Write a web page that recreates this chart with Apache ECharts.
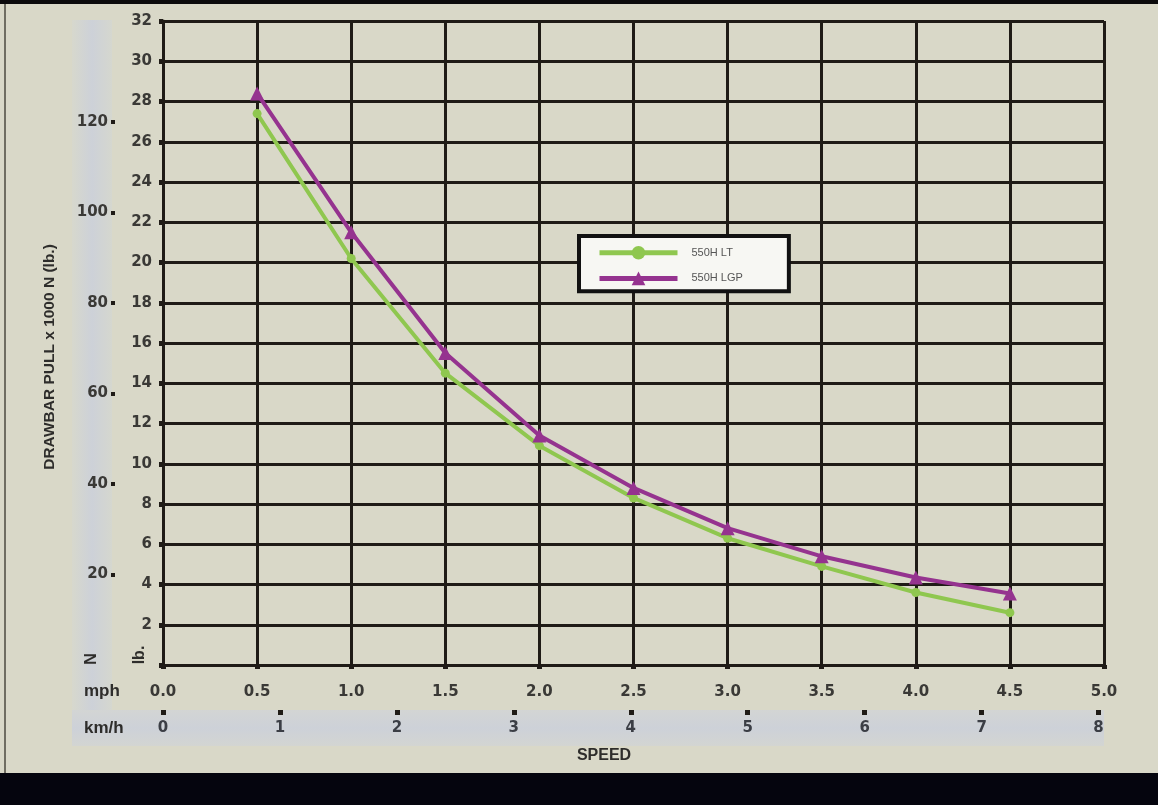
<!DOCTYPE html>
<html>
<head>
<meta charset="utf-8">
<script src="https://cdn.jsdelivr.net/npm/echarts@6/dist/echarts.min.js"></script>
<style>
html, body { margin: 0; padding: 0; background: #d9d8c8; }
#main { width: 1158px; height: 805px; }
</style>
</head>
<body>
<div id="main"></div>
<script>
// speed in mph, drawbar pull in 1000 lb
var speedMph = [0.5, 1.0, 1.5, 2.0, 2.5, 3.0, 3.5, 4.0, 4.5];
var pullLT = [27.4, 20.2, 14.5, 10.9, 8.3, 6.3, 4.9, 3.6, 2.6];
var pullLGP = [28.4, 21.5, 15.5, 11.4, 8.8, 6.8, 5.4, 4.35, 3.55];
var seriesNames = ['550H LT', '550H LGP'];
var kNTicks = [20, 40, 60, 80, 100, 120];
var kmhTicks = [0, 1, 2, 3, 4, 5, 6, 7, 8];

var LB_TO_KN = 4.44822;
var MPH_TO_KMH = 1.609344;
var FONT = "'Liberation Sans', Arial, sans-serif";
var NUMFONT = "'DejaVu Sans', 'Liberation Sans', sans-serif";
var INK = '#1f1b16';
var LABEL = '#3a3936';

function pairs(ys) {
    return speedMph.map(function (x, i) { return [x, ys[i]]; });
}

var myChart = echarts.init(document.getElementById('main'));

var option = {
    backgroundColor: '#d9d8c8',
    animation: false,
    grid: { left: 163, right: 54, top: 21, bottom: 140 },
    legend: {
        orient: 'vertical',
        left: 579,
        top: 236,
        padding: [10, 46, 6, 18],
        itemWidth: 78,
        itemHeight: 17,
        itemGap: 12,
        backgroundColor: '#f7f7f3',
        borderColor: '#111',
        borderWidth: 4,
        borderRadius: 0,
        lineStyle: { width: 5 },
        textStyle: { fontFamily: FONT, fontSize: 11, color: '#555', padding: [0, 0, 0, 9] },
        data: seriesNames
    },
    xAxis: [{
        type: 'value',
        min: 0, max: 5, interval: 0.5,
        axisLine: { lineStyle: { color: INK, width: 3 } },
        axisTick: { length: 4, lineStyle: { color: INK, width: 5 } },
        splitLine: { lineStyle: { color: INK, width: 3 } },
        axisLabel: {
            margin: 20, fontFamily: NUMFONT, fontSize: 15, fontWeight: 'bold', color: LABEL,
            formatter: function (v) { return v.toFixed(1); }
        }
    }, {
        // km/h scale under the mph one
        type: 'value',
        position: 'bottom',
        offset: 45,
        min: 0, max: 5 * MPH_TO_KMH,
        axisLine: { show: false, onZero: false },
        axisTick: { length: 5, customValues: kmhTicks, lineStyle: { color: INK, width: 5 } },
        splitLine: { show: false },
        axisLabel: {
            margin: 11, customValues: kmhTicks,
            fontFamily: NUMFONT, fontSize: 15, fontWeight: 'bold', color: '#3b3e45'
        }
    }],
    yAxis: [{
        type: 'value',
        min: 0, max: 32, interval: 2,
        axisLine: { show: true, lineStyle: { color: INK, width: 3 } },
        axisTick: { show: true, length: 4, lineStyle: { color: INK, width: 5 } },
        splitLine: { lineStyle: { color: INK, width: 3 } },
        axisLabel: {
            margin: 11, fontFamily: NUMFONT, fontSize: 15, fontWeight: 'bold', color: LABEL,
            formatter: function (v) { return v === 0 ? '' : String(v); }
        }
    }, {
        // 1000 N scale, same physical range as 0..32 thousand lb
        type: 'value',
        position: 'left',
        offset: 48,
        min: 0, max: 32 * LB_TO_KN,
        axisLine: { show: false, onZero: false },
        axisTick: { show: true, length: 4, customValues: kNTicks, lineStyle: { color: INK, width: 4 } },
        splitLine: { show: false },
        axisLabel: {
            margin: 7, customValues: kNTicks,
            fontFamily: NUMFONT, fontSize: 15, fontWeight: 'bold', color: LABEL
        }
    }],
    series: [{
        name: seriesNames[0],
        type: 'line',
        data: pairs(pullLT),
        symbol: 'circle',
        symbolSize: 9,
        lineStyle: { color: '#8fc74f', width: 4 },
        itemStyle: { color: '#8fc74f' },
        z: 3
    }, {
        name: seriesNames[1],
        type: 'line',
        data: pairs(pullLGP),
        symbol: 'triangle',
        symbolSize: 14,
        lineStyle: { color: '#95338f', width: 4 },
        itemStyle: { color: '#95338f' },
        z: 4
    }],
    graphic: [
        // frame
        { type: 'rect', z: -10, shape: { x: 0, y: 0, width: 1158, height: 4 }, style: { fill: '#0b0a0c' } },
        { type: 'rect', z: -10, shape: { x: 0, y: 773, width: 1158, height: 32 }, style: { fill: '#05050e' } },
        { type: 'rect', z: -10, shape: { x: 4, y: 4, width: 2, height: 769 }, style: { fill: '#6f6d62' } },
        // bluish label strips
        {
            type: 'rect', z: -9, shape: { x: 72, y: 20, width: 40, height: 725 },
            style: {
                fill: new echarts.graphic.LinearGradient(0, 0, 1, 0, [
                    { offset: 0, color: '#d7d8cd' },
                    { offset: 0.5, color: '#cdd1d8' },
                    { offset: 1, color: '#d5d7cf' }
                ])
            }
        },
        {
            type: 'rect', z: -9, shape: { x: 72, y: 710, width: 1032, height: 36 },
            style: {
                fill: new echarts.graphic.LinearGradient(0, 0, 0, 1, [
                    { offset: 0, color: '#d3d5d4' },
                    { offset: 0.5, color: '#cdd1d8' },
                    { offset: 1, color: '#d3d5d2' }
                ])
            }
        },
        // axis names
        {
            type: 'text', x: 50, y: 357, rotation: Math.PI / 2,
            style: { text: 'DRAWBAR PULL x 1000 N (lb.)', font: 'bold 15.5px ' + FONT, fill: '#2e2d2b', align: 'center', verticalAlign: 'middle' }
        },
        {
            type: 'text', x: 92, y: 659, rotation: Math.PI / 2,
            style: { text: 'N', font: 'bold 16px ' + FONT, fill: '#2e2d2b', align: 'center', verticalAlign: 'middle' }
        },
        {
            type: 'text', x: 140, y: 655, rotation: Math.PI / 2,
            style: { text: 'lb.', font: 'bold 16px ' + FONT, fill: '#2e2d2b', align: 'center', verticalAlign: 'middle' }
        },
        {
            type: 'text', x: 84, y: 691,
            style: { text: 'mph', font: 'bold 17px ' + FONT, fill: '#2e2d2b', align: 'left', verticalAlign: 'middle' }
        },
        {
            type: 'text', x: 84, y: 728,
            style: { text: 'km/h', font: 'bold 17px ' + FONT, fill: '#2e2d2b', align: 'left', verticalAlign: 'middle' }
        },
        {
            type: 'text', x: 604, y: 756,
            style: { text: 'SPEED', font: 'bold 16px ' + FONT, fill: '#2e2d2b', align: 'center', verticalAlign: 'middle' }
        }
    ]
};

myChart.setOption(option);
</script>
</body>
</html>
